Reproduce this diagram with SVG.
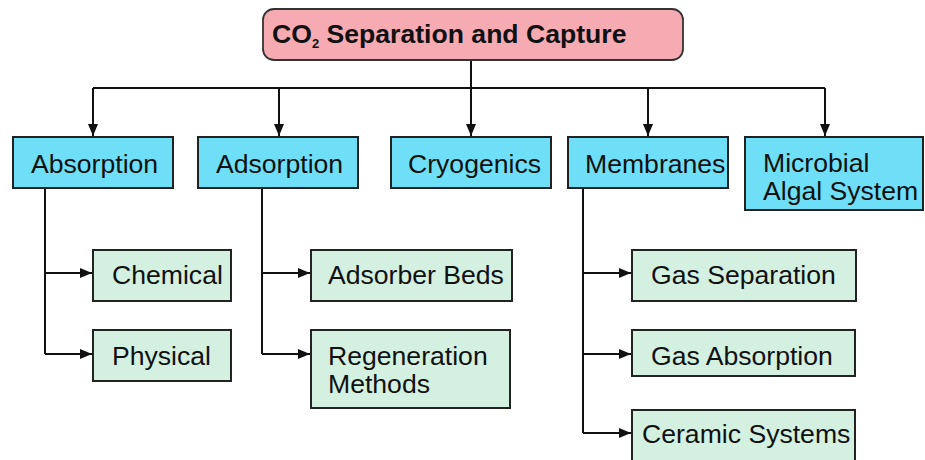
<svg xmlns="http://www.w3.org/2000/svg" width="925" height="460" viewBox="0 0 925 460">
<defs>
<marker id="ah" markerUnits="userSpaceOnUse" markerWidth="13" markerHeight="13" viewBox="0 0 13 13" refX="12" refY="6.5" orient="auto">
<path d="M0,1.5 L12,6.5 L0,11.5 Z" fill="#111"/>
</marker>
<style>
.c{fill:none;stroke:#111;stroke-width:2}
.top{fill:#f6abb3;stroke:#333;stroke-width:1.8}
.b{fill:#6fdff8;stroke:#222;stroke-width:2}
.g{fill:#d4f0e1;stroke:#222;stroke-width:2}
text{font-family:"Liberation Sans",Arial,sans-serif;font-size:26.6px;fill:#111}
.t{font-weight:bold;font-size:26.6px}
</style>
</defs>
<rect width="925" height="460" fill="#fff"/>
<g id="connectors">
<path class="c" d="M471,60 V88"/>
<path class="c" d="M93,88 H825"/>
<path class="c" d="M93,88 V136" marker-end="url(#ah)"/>
<path class="c" d="M279,88 V136" marker-end="url(#ah)"/>
<path class="c" d="M471,88 V136" marker-end="url(#ah)"/>
<path class="c" d="M648,88 V136" marker-end="url(#ah)"/>
<path class="c" d="M825,88 V136" marker-end="url(#ah)"/>
<path class="c" d="M45,188 V354"/>
<path class="c" d="M45,273 H92" marker-end="url(#ah)"/>
<path class="c" d="M45,354 H92" marker-end="url(#ah)"/>
<path class="c" d="M262,188 V354"/>
<path class="c" d="M262,273 H310" marker-end="url(#ah)"/>
<path class="c" d="M262,354 H310" marker-end="url(#ah)"/>
<path class="c" d="M583,188 V433"/>
<path class="c" d="M583,273 H631" marker-end="url(#ah)"/>
<path class="c" d="M583,354 H631" marker-end="url(#ah)"/>
<path class="c" d="M583,433 H631" marker-end="url(#ah)"/>
</g>
<g id="root">
<rect class="top" x="263" y="9" width="420" height="51" rx="11"/>
<text class="t" x="272" y="43">CO<tspan font-size="13" dy="5">2</tspan><tspan dy="-5"> Separation and Capture</tspan></text>
</g>
<g id="absorption">
<rect class="b" x="13" y="137" width="160" height="51"/>
<text x="31" y="173">Absorption</text>
</g>
<g id="adsorption">
<rect class="b" x="198" y="137" width="160" height="51"/>
<text x="216" y="173">Adsorption</text>
</g>
<g id="cryogenics">
<rect class="b" x="391" y="137" width="160" height="51"/>
<text x="408" y="173">Cryogenics</text>
</g>
<g id="membranes">
<rect class="b" x="568" y="137" width="160" height="51"/>
<text x="585" y="173">Membranes</text>
</g>
<g id="microbial">
<rect class="b" x="745" y="137" width="178" height="73"/>
<text x="763" y="172">Microbial</text>
<text x="763" y="200">Algal System</text>
</g>
<g id="chemical">
<rect class="g" x="93" y="250" width="138" height="51"/>
<text x="112" y="284">Chemical</text>
</g>
<g id="physical">
<rect class="g" x="93" y="330" width="138" height="51"/>
<text x="112" y="365">Physical</text>
</g>
<g id="adsorber-beds">
<rect class="g" x="311" y="250" width="201" height="51"/>
<text x="328" y="284">Adsorber Beds</text>
</g>
<g id="regeneration">
<rect class="g" x="311" y="330" width="199" height="78"/>
<text x="328" y="365">Regeneration</text>
<text x="328" y="393">Methods</text>
</g>
<g id="gas-separation">
<rect class="g" x="632" y="250" width="224" height="51"/>
<text x="651" y="284">Gas Separation</text>
</g>
<g id="gas-absorption">
<rect class="g" x="632" y="330" width="223" height="46"/>
<text x="651" y="365">Gas Absorption</text>
</g>
<g id="ceramic">
<rect class="g" x="632" y="410" width="223" height="60"/>
<text x="642" y="443">Ceramic Systems</text>
</g>
</svg>
